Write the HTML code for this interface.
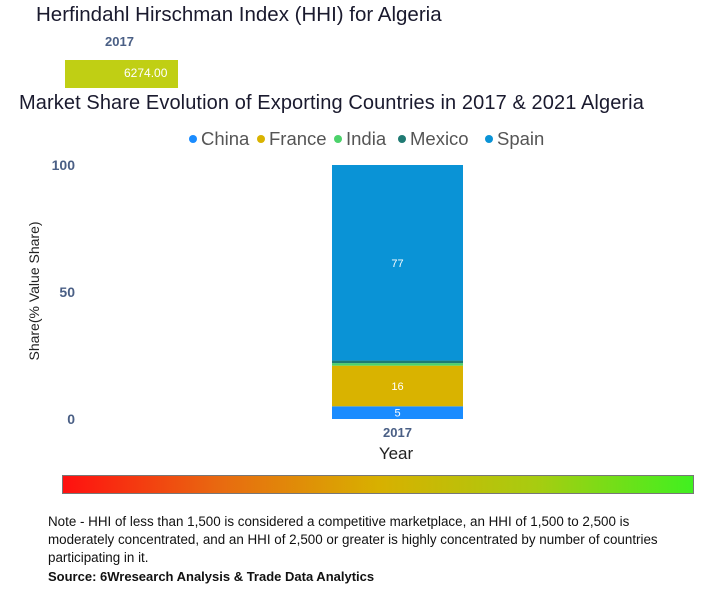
<!DOCTYPE html>
<html><head><meta charset="utf-8"><style>
body{margin:0;background:#fff;font-family:"Liberation Sans",sans-serif;}
#root{position:relative;width:710px;height:600px;overflow:hidden;}
.t{position:absolute;white-space:nowrap;}
</style></head><body>
<div id="root">
<div class="t" style="left:36px;top:3px;font-size:20.5px;color:#1a1a2e;">Herfindahl Hirschman Index (HHI) for Algeria</div>
<div class="t" style="left:105px;top:34px;font-size:13px;font-weight:bold;color:#4a5f85;">2017</div>
<div style="position:absolute;left:65px;top:60px;width:113px;height:28px;background:#c0cf14;"></div>
<div class="t" style="left:124px;top:66px;font-size:12px;color:#fff;">6274.00</div>
<div class="t" style="left:19px;top:92px;font-size:20px;letter-spacing:0.1px;color:#1a1a2e;">Market Share Evolution of Exporting Countries in 2017 &amp; 2021 Algeria</div>
<svg id="chart" width="710" height="600" style="position:absolute;left:0;top:0"></svg>
<div style="position:absolute;left:62px;top:475px;width:632px;height:19px;border:1px solid #777;box-sizing:border-box;background:linear-gradient(to right,#ff1010,#e86a10 25%,#d8b000 50%,#a8cc10 75%,#40f020);"></div>
<div class="t" style="left:48px;top:513px;font-size:13.4px;line-height:18px;color:#111;">Note - HHI of less than 1,500 is considered a competitive marketplace, an HHI of 1,500 to 2,500 is<br>moderately concentrated, and an HHI of 2,500 or greater is highly concentrated by number of countries<br>participating in it.</div>
<div class="t" style="left:48px;top:569px;font-size:13px;font-weight:bold;color:#111;">Source: 6Wresearch Analysis &amp; Trade Data Analytics</div>
</div>
<script>
const years=["2017"];
const seriesNames=["China","France","India","Mexico","Spain"];
const seriesColors=["#1a8cff","#d9b300","#4cd26b","#1f7a73","#0a93d6"];
const china=[5];
const france=[16];
const india=[1];
const mexico=[1];
const spain=[77];
const yTicks=[0,50,100];
const series=[china,france,india,mexico,spain];
const NS="http://www.w3.org/2000/svg";
const svg=document.getElementById('chart');
const y0=419,y1=165;
const yScale=v=>y0-(v/100)*(y0-y1);
const xCenter=i=>397.5+i*150;
const barW=131;
function mk(tag,attrs,txt){const e=document.createElementNS(NS,tag);for(const k in attrs)e.setAttribute(k,attrs[k]);if(txt!==undefined)e.textContent=txt;svg.appendChild(e);return e;}
let lx=189;
const lw=[68,77,64,87,60];
seriesNames.forEach((n,i)=>{
 const c=mk('circle',{cx:lx+4,cy:139,r:4,fill:seriesColors[i]});
 
 
 const t=mk('text',{x:lx+12,y:145,'font-size':18.5,fill:'#555','font-family':'Liberation Sans, sans-serif'},n);
 
 
 lx+=lw[i];
});
yTicks.forEach(v=>{
 const t=mk('text',{x:75,y:yScale(v)+5,'text-anchor':'end','font-size':14,'font-weight':'bold',fill:'#4a5f85','font-family':'Liberation Sans, sans-serif'},v);
 
 
});
const yt=mk('text',{x:0,y:0,transform:'translate(39,291) rotate(-90)','text-anchor':'middle','font-size':14,fill:'#222','font-family':'Liberation Sans, sans-serif'},'Share(% Value Share)');


years.forEach((yr,i)=>{
 let cum=0;
 series.forEach((s,j)=>{
  const v=s[i];
  const top=yScale(cum+v),bot=yScale(cum);
  const r=mk('rect',{x:xCenter(i)-barW/2,y:top,width:barW,height:bot-top,fill:seriesColors[j]});
  
  
  if(v>=3){
   const t=mk('text',{x:xCenter(i),y:(top+bot)/2+4,'text-anchor':'middle','font-size':11,fill:'#fff','font-family':'Liberation Sans, sans-serif'},v);
   
   
  }
  cum+=v;
 });
 const xl=mk('text',{x:xCenter(i),y:437,'text-anchor':'middle','font-size':13,'font-weight':'bold',fill:'#4a5f85','font-family':'Liberation Sans, sans-serif'},yr);
 
 
});
const xt=mk('text',{x:396,y:459,'text-anchor':'middle','font-size':17,fill:'#222','font-family':'Liberation Sans, sans-serif'},'Year');


</script>
</body></html>
